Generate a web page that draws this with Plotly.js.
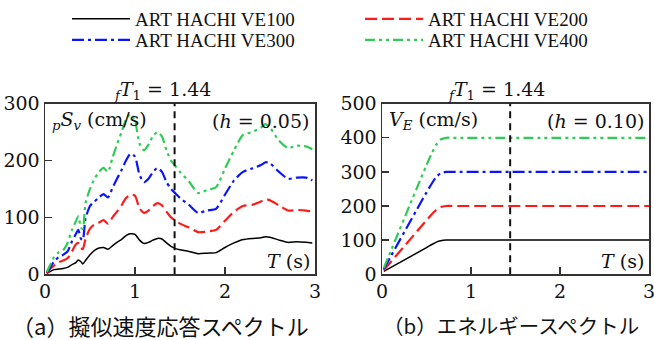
<!DOCTYPE html>
<html>
<head>
<meta charset="utf-8">
<script src="https://cdn.plot.ly/plotly-3.0.1.min.js"></script>
<style>
  html, body { margin: 0; padding: 0; background: #fff; }
  #chart { width: 654px; height: 340px; }
</style>
</head>
<body>
<div id="chart"></div>
<script>
// Damper series
const seriesNames = ['ART HACHI VE100', 'ART HACHI VE200', 'ART HACHI VE300', 'ART HACHI VE400'];

// (a) pseudo-velocity response spectrum, h = 0.05
const periodSv = [0.02, 0.05, 0.10, 0.15, 0.20, 0.25, 0.30, 0.34, 0.37, 0.40, 0.42, 0.45, 0.50, 0.55, 0.60, 0.65,
  0.70, 0.75, 0.80, 0.85, 0.90, 0.95, 1.00, 1.05, 1.10, 1.15, 1.20, 1.25, 1.30, 1.35, 1.40, 1.45, 1.50, 1.60,
  1.70, 1.80, 1.90, 2.00, 2.10, 2.20, 2.30, 2.40, 2.45, 2.50, 2.60, 2.70, 2.80, 2.90, 2.97];
const svVE100 = [1, 4, 8, 9, 10, 12, 17, 20, 25, 22, 18, 24, 34, 42, 46, 47,
  44, 50, 56, 61, 68, 71, 70, 60, 54, 56, 60, 63, 62, 55, 49, 45, 43, 40,
  36, 37, 38, 47, 55, 61, 63, 64, 66, 65, 60, 56, 57, 56, 55];
const svVE200 = [2, 8, 15, 21, 24, 28, 40, 52, 55, 46, 44, 62, 80, 88, 91, 95,
  89, 100, 110, 121, 134, 140, 138, 116, 108, 112, 120, 125, 121, 110, 100, 94, 89, 82,
  74, 75, 78, 94, 110, 120, 122, 128, 132, 130, 121, 112, 113, 112, 110];
const svVE300 = [3, 10, 22, 30, 34, 40, 58, 70, 78, 62, 60, 98, 120, 128, 135, 141,
  135, 152, 168, 183, 200, 212, 207, 175, 162, 168, 180, 187, 180, 162, 150, 142, 134, 122,
  108, 112, 115, 140, 165, 180, 186, 192, 197, 195, 180, 168, 170, 170, 165];
const svVE400 = [4, 14, 30, 38, 42, 55, 78, 92, 102, 82, 80, 125, 150, 168, 180, 187,
  180, 205, 228, 250, 272, 282, 270, 230, 218, 228, 243, 250, 242, 218, 200, 190, 180, 163,
  143, 148, 153, 186, 218, 245, 250, 258, 264, 258, 235, 222, 226, 225, 220];

// (b) energy spectrum, h = 0.10
const periodVe = [0.02, 0.50, 0.56, 0.61, 0.66, 0.72, 0.80, 3.00];
const veVE100 = [8, 78, 87, 94, 98, 100, 100, 100];
const veVE200 = [12, 158, 176, 189, 197, 200, 200, 200];
const veVE300 = [15, 240, 266, 285, 296, 300, 300, 300];
const veVE400 = [18, 320, 355, 380, 395, 400, 400, 400];

// First natural period of the frame
const fT1 = 1.44;

const colors = ['#000000', '#ff1a1a', '#0a14ff', '#2ecc55'];
const widths = [1.5, 2.2, 2.2, 2.2];
const dashes = ['solid', '12px,5px', '12px,4px,3px,4px', '10px,4px,3px,4px,3px,4px'];
// two legend rows: VE100/VE200 on top, VE300/VE400 below
const legendRow = ['legend', 'legend', 'legend2', 'legend2'];

const svSets = [svVE100, svVE200, svVE300, svVE400];
const veSets = [veVE100, veVE200, veVE300, veVE400];

const traces = [];
svSets.forEach((vals, i) => {
  traces.push({
    type: 'scatter', mode: 'lines', x: periodSv, y: vals, name: seriesNames[i],
    xaxis: 'x', yaxis: 'y', showlegend: true, legend: legendRow[i],
    line: { color: colors[i], width: widths[i], dash: dashes[i], shape: 'spline', smoothing: 0.6 }
  });
});
veSets.forEach((vals, i) => {
  traces.push({
    type: 'scatter', mode: 'lines', x: periodVe, y: vals, name: seriesNames[i],
    xaxis: 'x2', yaxis: 'y2', showlegend: false,
    line: { color: colors[i], width: widths[i], dash: dashes[i], shape: 'spline', smoothing: 0.8 }
  });
});

const W = 654, H = 340;
const legendFont = 'Times New Roman';
const serif = 'DejaVu Serif';
const gothic = 'Noto Sans CJK JP';
const yDom = [66 / H, 237 / H];

function axisBase(extra) {
  return Object.assign({
    showline: true, linecolor: '#333', linewidth: 1.5, mirror: true,
    ticks: 'inside', ticklen: 7, tickwidth: 1.3, tickcolor: '#333',
    showgrid: false, zeroline: false, fixedrange: true,
    ticklabeloverflow: 'allow',
    tickfont: { family: serif, size: 19, color: '#111' }
  }, extra);
}

function legendBox(topPx) {
  return {
    orientation: 'h', x: 67 / W, xanchor: 'left', y: 1 - topPx / H, yanchor: 'top',
    entrywidth: 220, entrywidthmode: 'pixels', itemwidth: 58,
    font: { family: legendFont, size: 19, color: '#111' },
    bgcolor: 'rgba(0,0,0,0)', traceorder: 'normal', tracegroupgap: 0
  };
}

const ann = (o, fam, size) => Object.assign({ showarrow: false, font: { family: fam || serif, size: size || 19, color: '#111' } }, o);

const layout = {
  width: W, height: H,
  margin: { l: 0, r: 0, t: 0, b: 0 },
  paper_bgcolor: '#fff', plot_bgcolor: '#fff',
  font: { family: serif, size: 19, color: '#111' },
  xaxis: axisBase({ domain: [45 / W, 315 / W], range: [0, 3], tickvals: [0, 1, 2, 3], anchor: 'y' }),
  yaxis: axisBase({ domain: yDom, range: [0, 300], tickvals: [0, 100, 200, 300], anchor: 'x' }),
  xaxis2: axisBase({ domain: [382 / W, 649 / W], range: [0, 3], tickvals: [0, 1, 2, 3], anchor: 'y2' }),
  yaxis2: axisBase({ domain: yDom, range: [0, 500], tickvals: [0, 100, 200, 300, 400, 500], anchor: 'x2' }),
  showlegend: true,
  legend: legendBox(-1),
  legend2: legendBox(21),
  shapes: [
    { type: 'line', xref: 'x', yref: 'y domain', x0: fT1, x1: fT1, y0: 0, y1: 1,
      line: { color: '#111', width: 2, dash: '7px,5px' } },
    { type: 'line', xref: 'x2', yref: 'y2 domain', x0: fT1, x1: fT1, y0: 0, y1: 1,
      line: { color: '#111', width: 2, dash: '7px,5px' } }
  ],
  annotations: [
    ann({ xref: 'x', yref: 'paper', x: fT1, y: 1 - 104 / H, xshift: -12, yanchor: 'bottom',
      text: '<sub><i>f</i></sub><i>T</i><sub>1</sub> = ' + fT1.toFixed(2) }),
    ann({ xref: 'x2', yref: 'paper', x: fT1, y: 1 - 104 / H, xshift: -14, yanchor: 'bottom',
      text: '<sub><i>f</i></sub><i>T</i><sub>1</sub> = ' + fT1.toFixed(2) }),
    ann({ xref: 'x domain', yref: 'y domain', x: 0.02, y: 0.90, xanchor: 'left', yanchor: 'middle',
      text: '<sub><i>p</i></sub><i>S</i><sub><i>v</i></sub> (cm/s)' }),
    ann({ xref: 'x domain', yref: 'y domain', x: 0.985, y: 0.90, xanchor: 'right', yanchor: 'middle',
      text: '(<i>h</i> = 0.05)' }),
    ann({ xref: 'x domain', yref: 'y domain', x: 0.99, y: 0.08, xanchor: 'right', yanchor: 'middle',
      text: '<i>T</i> (s)' }),
    ann({ xref: 'x2 domain', yref: 'y2 domain', x: 0.02, y: 0.90, xanchor: 'left', yanchor: 'middle',
      text: '<i>V</i><sub><i>E</i></sub> (cm/s)' }),
    ann({ xref: 'x2 domain', yref: 'y2 domain', x: 0.99, y: 0.90, xanchor: 'right', yanchor: 'middle',
      text: '(<i>h</i> = 0.10)' }),
    ann({ xref: 'x2 domain', yref: 'y2 domain', x: 0.99, y: 0.08, xanchor: 'right', yanchor: 'middle',
      text: '<i>T</i> (s)' }),
    ann({ xref: 'paper', yref: 'paper', x: 160 / W, y: 1 - 325 / H, xanchor: 'center', yanchor: 'middle',
      text: '（a）擬似速度応答スペクトル' }, gothic, 22),
    ann({ xref: 'paper', yref: 'paper', x: 511 / W, y: 1 - 325 / H, xanchor: 'center', yanchor: 'middle',
      text: '（b）エネルギースペクトル' }, gothic, 20.5)
  ]
};

Plotly.newPlot('chart', traces, layout, { displayModeBar: false, staticPlot: true });
</script>
</body>
</html>
